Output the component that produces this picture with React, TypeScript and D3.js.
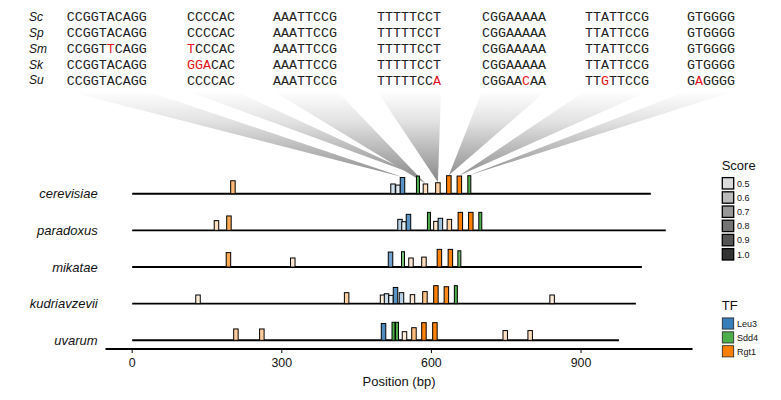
import React from "react";
import * as d3 from "d3";

// ---------- data ----------
const species = ["cerevisiae", "paradoxus", "mikatae", "kudriavzevii", "uvarum"];
const speciesAbbr = ["Sc", "Sp", "Sm", "Sk", "Su"];
const trackLengths = [1040, 1070, 1022, 1010, 976];
const tfNames = ["Leu3", "Sdd4", "Rgt1"];
const tfColors = ["#377EB8", "#4DAF4A", "#FF7F00"];
const tfWidths = [9, 6, 9]; // motif widths in bp
const scoreBreaks = [0.5, 0.6, 0.7, 0.8, 0.9, 1.0];
const xTicks = [0, 300, 600, 900];

// sites: [position (bp), TF index, score]
const cerevisiaeSites = [
  [202, 2, 0.72], [523, 0, 0.54], [533, 0, 0.48], [542, 0, 0.9], [573, 1, 0.98],
  [588, 2, 0.54], [613, 2, 0.61], [635, 2, 1.0], [656, 2, 0.98], [676, 1, 1.0],
];
const paradoxusSites = [
  [169, 2, 0.54], [194, 2, 0.8], [537, 0, 0.61], [545, 0, 0.48], [554, 0, 0.89],
  [595, 1, 1.0], [609, 2, 0.5], [618, 0, 0.67], [636, 2, 0.61], [658, 2, 1.0],
  [679, 2, 1.0], [698, 1, 1.0],
];
const mikataeSites = [
  [193, 2, 0.8], [322, 2, 0.5], [518, 0, 0.83], [543, 1, 0.85], [559, 2, 0.5],
  [585, 2, 0.55], [616, 2, 0.98], [638, 2, 0.98], [656, 1, 0.9],
];
const kudriavzeviiSites = [
  [132, 2, 0.48], [430, 2, 0.61], [502, 2, 0.48], [510, 0, 0.55], [519, 0, 0.46],
  [528, 0, 0.9], [540, 0, 0.61], [562, 2, 0.5], [587, 2, 0.67], [609, 2, 1.0],
  [630, 2, 0.94], [649, 1, 1.0], [842, 2, 0.48],
];
const uvarumSites = [
  [208, 2, 0.63], [260, 2, 0.63], [504, 0, 0.93], [524, 1, 1.0], [531, 1, 1.0],
  [546, 2, 0.48], [565, 2, 0.7], [585, 2, 0.98], [607, 2, 0.98], [748, 2, 0.54],
  [798, 2, 0.54],
];
const sitesBySpecies = [cerevisiaeSites, paradoxusSites, mikataeSites, kudriavzeviiSites, uvarumSites];

// aligned motif sequences (rows = species, columns = motifs)
const seqSc = ["CCGGTACAGG", "CCCCAC", "AAATTCCG", "TTTTTCCT", "CGGAAAAA", "TTATTCCG", "GTGGGG"];
const seqSp = ["CCGGTACAGG", "CCCCAC", "AAATTCCG", "TTTTTCCT", "CGGAAAAA", "TTATTCCG", "GTGGGG"];
const seqSm = ["CCGGTTCAGG", "TCCCAC", "AAATTCCG", "TTTTTCCT", "CGGAAAAA", "TTATTCCG", "GTGGGG"];
const seqSk = ["CCGGTACAGG", "GGACAC", "AAATTCCG", "TTTTTCCT", "CGGAAAAA", "TTATTCCG", "GTGGGG"];
const seqSu = ["CCGGTACAGG", "CCCCAC", "AAATTCCG", "TTTTTCCA", "CGGAACAA", "TTGTTCCG", "GAGGGG"];
const seqRows = [seqSc, seqSp, seqSm, seqSk, seqSu];
// which cerevisiae site each motif column points to
const fanSiteIndex = [3, 4, 5, 6, 7, 8, 9];

// ---------- layout ----------
const W = 781;
const H = 400;
const seqColX = [66.7, 187, 273, 377, 482, 585, 687];
const charW = 8.0;
const seqRowY0 = 16.5;
const seqRowStep = 15.9;
const trackY0 = 193.7;
const trackStep = 36.65;
const axisY = 349;
const fanTop = 91;

export default function App() {
  const x = d3.scaleLinear().domain([-53.5, 1123.5]).range([105.5, 692.5]);
  const h = d3.scaleLinear().domain([0, 1]).range([0, 18]);
  const alpha = d3.scaleLinear().domain([0.45, 1.0]).range([0.1, 1]).clamp(true);
  const trackY = (i: number) => trackY0 + i * trackStep;

  const fans = fanSiteIndex.map((si, c) => {
    const [pos, , score] = cerevisiaeSites[si];
    const x0 = seqColX[c];
    const x1 = seqColX[c] + seqSc[c].length * charW;
    const ax = x(pos);
    const ay = trackY(0) - h(score) - 0.5;
    return `M${x0},${fanTop}L${x1},${fanTop}L${ax},${ay}Z`;
  });

  return (
    <svg width={W} height={H} style={{ position: "absolute", left: 0, top: 0, background: "#fff" }}
      fontFamily="'Liberation Sans', Arial, Helvetica, sans-serif">
      <defs>
        <linearGradient id="fanGrad" gradientUnits="userSpaceOnUse" x1="0" y1={fanTop} x2="0" y2={trackY(0) - 16}>
          <stop offset="0" stopColor="#ffffff" />
          <stop offset="0.35" stopColor="#e2e2e2" />
          <stop offset="1" stopColor="#8e8e8e" />
        </linearGradient>
      </defs>

      {/* fans */}
      {fans.map((d, i) => (
        <path key={i} d={d} fill="url(#fanGrad)" />
      ))}

      {/* sequence block */}
      {seqRows.map((row, r) => {
        const y = seqRowY0 + r * seqRowStep;
        return (
          <g key={r}>
            <text x={29} y={y + 4.3} fontSize={12} fontStyle="italic" fill="#111">{speciesAbbr[r]}</text>
            {row.map((s, c) => (
              <text key={c} x={seqColX[c]} y={y + 4.4} fontSize={13.33}
                fontFamily="'Liberation Mono', 'Courier New', monospace" fill="#222">
                {s.split("").map((ch, k) => (
                  <tspan key={k} fill={ch !== seqSc[c][k] ? "#e3121b" : "#222"}>{ch}</tspan>
                ))}
              </text>
            ))}
          </g>
        );
      })}

      {/* tracks */}
      {species.map((sp, i) => {
        const y = trackY(i);
        return (
          <g key={sp}>
            <text x={97.7} y={y + 4.7} fontSize={13} fontStyle="italic" textAnchor="end" fill="#111">{sp}</text>
            <line x1={x(0)} x2={x(trackLengths[i])} y1={y} y2={y} stroke="#000" strokeWidth={1.9} />
            {sitesBySpecies[i].map(([pos, tf, score], k) => {
              const wbp = tfWidths[tf];
              const bx = x(pos - wbp / 2);
              const bw = x(pos + wbp / 2) - bx;
              const bh = h(score);
              return (
                <g key={k}>
                  <rect x={bx} y={y - bh} width={bw} height={bh} fill="#fff" stroke="none" />
                  <rect x={bx} y={y - bh} width={bw} height={bh} fill={tfColors[tf]}
                    fillOpacity={alpha(score)} stroke="#000" strokeWidth={1} />
                </g>
              );
            })}
          </g>
        );
      })}

      {/* x axis */}
      <line x1={x.range()[0]} x2={x.range()[1]} y1={axisY} y2={axisY} stroke="#000" strokeWidth={1.9} />
      {xTicks.map((t) => (
        <g key={t}>
          <line x1={x(t)} x2={x(t)} y1={axisY} y2={axisY + 4} stroke="#000" strokeWidth={1} />
          <text x={x(t)} y={axisY + 17.5} fontSize={12.4} textAnchor="middle" fill="#111">{t}</text>
        </g>
      ))}
      <text x={(x.range()[0] + x.range()[1]) / 2} y={axisY + 37} fontSize={13} textAnchor="middle" fill="#111">Position (bp)</text>

      {/* Score legend */}
      <text x={721.7} y={169.5} fontSize={13} fill="#111">Score</text>
      {scoreBreaks.map((s, i) => {
        const cy = 183.3 + i * 14.2;
        return (
          <g key={s}>
            <rect x={722.3} y={cy - 5.7} width={11.4} height={11.4} fill="#333333" fillOpacity={alpha(s)}
              stroke="#000" strokeWidth={1.3} />
            <text x={737} y={cy + 3.3} fontSize={9} fill="#111">{s.toFixed(1)}</text>
          </g>
        );
      })}

      {/* TF legend */}
      <text x={721.7} y={309.7} fontSize={13} fill="#111">TF</text>
      {tfNames.map((n, i) => {
        const cy = 323.5 + i * 13.9;
        return (
          <g key={n}>
            <rect x={722.3} y={cy - 5.6} width={11.4} height={11.2} fill={tfColors[i]} stroke="#222" strokeWidth={0.8} />
            <text x={737} y={cy + 3.3} fontSize={9} fill="#111">{n}</text>
          </g>
        );
      })}
    </svg>
  );
}
